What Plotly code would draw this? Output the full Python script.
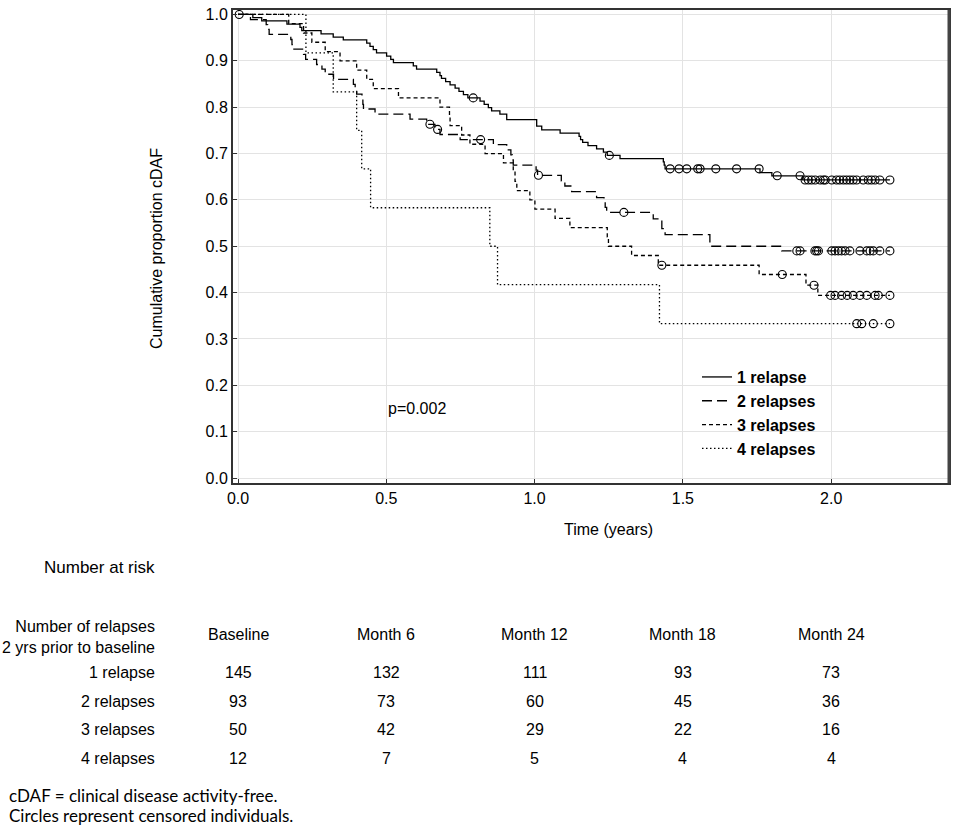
import numpy as np
import plotly.graph_objects as go

# Kaplan-Meier steps (time in years, cumulative proportion)
t_1 = [0, 0.05, 0.08, 0.165, 0.209, 0.215, 0.28, 0.321, 0.355, 0.434, 0.445, 0.456,
       0.467, 0.501, 0.515, 0.524, 0.591, 0.602, 0.670, 0.681, 0.686, 0.700, 0.715,
       0.732, 0.745, 0.760, 0.775, 0.816, 0.830, 0.844, 0.855, 0.883, 0.906, 1.007,
       1.024, 1.086, 1.150, 1.155, 1.162, 1.180, 1.209, 1.232, 1.245, 1.288, 1.434,
       1.437, 1.440, 1.760, 1.800, 1.904, 2.198]
s_1 = [1.0, 0.993, 0.986, 0.979, 0.972, 0.965, 0.958, 0.951, 0.945, 0.938, 0.931, 0.924,
       0.917, 0.910, 0.903, 0.896, 0.889, 0.882, 0.875, 0.868, 0.862, 0.855, 0.848,
       0.841, 0.834, 0.827, 0.820, 0.813, 0.806, 0.799, 0.792, 0.785, 0.773, 0.759,
       0.751, 0.744, 0.737, 0.730, 0.724, 0.717, 0.710, 0.703, 0.696, 0.689, 0.682,
       0.675, 0.667, 0.659, 0.652, 0.643, 0.643]
c_1 = [0.004, 0.793, 1.252, 1.457, 1.487, 1.513, 1.550, 1.558, 1.611, 1.681, 1.757,
       1.818, 1.895, 1.912, 1.923, 1.934, 1.946, 1.963, 1.974, 1.980, 2.002, 2.018,
       2.029, 2.041, 2.052, 2.063, 2.074, 2.086, 2.108, 2.125, 2.136, 2.148, 2.164, 2.198]

t_2 = [0, 0.042, 0.095, 0.100, 0.105, 0.178, 0.182, 0.186, 0.221, 0.228, 0.265, 0.283,
       0.294, 0.322, 0.389, 0.395, 0.400, 0.418, 0.421, 0.423, 0.462, 0.580, 0.636,
       0.664, 0.681, 0.749, 0.861, 0.906, 0.920, 0.925, 0.928, 1.005, 1.010, 1.090,
       1.102, 1.125, 1.209, 1.234, 1.238, 1.243, 1.400, 1.429, 1.440, 1.591, 1.833, 2.198]
s_2 = [1.0, 0.989, 0.978, 0.968, 0.957, 0.946, 0.935, 0.925, 0.914, 0.903, 0.892, 0.882,
       0.871, 0.860, 0.849, 0.839, 0.828, 0.817, 0.806, 0.796, 0.785, 0.774, 0.763,
       0.752, 0.741, 0.730, 0.719, 0.708, 0.697, 0.686, 0.675, 0.664, 0.653, 0.641,
       0.630, 0.618, 0.605, 0.595, 0.584, 0.573, 0.559, 0.538, 0.525, 0.500, 0.490, 0.490]
c_2 = [0.647, 0.673, 0.818, 1.013, 1.301, 1.884, 1.895, 1.945, 1.951, 1.957, 2.002,
       2.013, 2.024, 2.035, 2.047, 2.063, 2.097, 2.120, 2.131, 2.142, 2.164, 2.198]

t_3 = [0, 0.171, 0.221, 0.249, 0.294, 0.344, 0.400, 0.434, 0.456, 0.541, 0.681, 0.713,
       0.715, 0.754, 0.782, 0.833, 0.895, 0.928, 0.934, 0.940, 0.984, 1.001, 1.069,
       1.119, 1.245, 1.249, 1.327, 1.417, 1.757, 1.915, 1.955, 2.198]
s_3 = [1.0, 0.98, 0.96, 0.94, 0.92, 0.90, 0.88, 0.86, 0.84, 0.82, 0.80, 0.78,
       0.76, 0.74, 0.72, 0.70, 0.68, 0.66, 0.64, 0.62, 0.60, 0.58, 0.56,
       0.54, 0.52, 0.50, 0.48, 0.459, 0.439, 0.416, 0.394, 0.394]
c_3 = [1.429, 1.835, 1.942, 1.998, 2.013, 2.035, 2.054, 2.074, 2.097, 2.120, 2.148,
       2.159, 2.198]

t_4 = [0, 0.229, 0.321, 0.400, 0.417, 0.447, 0.849, 0.875, 1.421, 2.198]
s_4 = [1.0, 0.917, 0.833, 0.750, 0.667, 0.583, 0.500, 0.417, 0.333, 0.333]
c_4 = [2.086, 2.103, 2.142, 2.198]

groups = ["1 relapse", "2 relapses", "3 relapses", "4 relapses"]

# number at risk table
months = ["Baseline", "Month 6", "Month 12", "Month 18", "Month 24"]
month_x = [0, 0.5, 1.0, 1.5, 2.0]
at_risk_1 = [145, 132, 111, 93, 73]
at_risk_2 = [93, 73, 60, 45, 36]
at_risk_3 = [50, 42, 29, 22, 16]
at_risk_4 = [12, 7, 5, 4, 4]

FONT = "Liberation Sans"
W, H = 957, 831
L, R, T, B = 233, 8, 6, 348


def py(p):
    # pixel row -> paper y
    return (H - B - p) / (H - B - T)


def px(p):
    return (p - L) / (W - L - R)


def at(times, tt, ss):
    idx = np.searchsorted(np.array(tt), np.array(times), side="right") - 1
    return np.array(ss)[idx]


fig = go.Figure()
dashes = ["solid", "10px,5px", "4px,3px", "1.5px,2.5px"]
curves = [(t_1, s_1, c_1), (t_2, s_2, c_2), (t_3, s_3, c_3), (t_4, s_4, c_4)]
for name, dash, (tt, ss, cc) in zip(groups, dashes, curves):
    fig.add_trace(go.Scatter(x=tt, y=ss, mode="lines", line_shape="hv",
                             line=dict(color="black", width=1.3, dash=dash),
                             name="<b>%s</b>" % name))
for name, (tt, ss, cc) in zip(groups, curves):
    fig.add_trace(go.Scatter(x=cc, y=at(cc, tt, ss), mode="markers", showlegend=False,
                             marker=dict(symbol="circle-open", size=8, color="black",
                                         line=dict(width=1.1)),
                             name=name))


def note(x, y, text, xref="paper", yref="paper", xanchor="center", size=16, **kw):
    return dict(x=x, y=y, xref=xref, yref=yref, text=text, showarrow=False,
                xanchor=xanchor, yanchor="middle", font=dict(size=size), **kw)


ann = [
    note(0.5, 0.151, "p=0.002", xref="x", yref="y", xanchor="left"),
    note(1.25, py(530), "Time (years)", xref="x"),
    note(px(157), py(247), "Cumulative proportion cDAF", textangle=-90),
    note(px(157), py(568), "Number at risk", xanchor="right", size=17),
    note(px(157), py(638), "Number of relapses<br>2 yrs prior to baseline",
         xanchor="right", align="right"),
]
for m, mx in zip(months, month_x):
    ann.append(note(mx, py(636), m, xref="x"))
rows = [at_risk_1, at_risk_2, at_risk_3, at_risk_4]
row_y = [674, 703, 732, 761]
for name, vals, ry in zip(groups, rows, row_y):
    ann.append(note(px(157), py(ry), name, xanchor="right"))
    for v, mx in zip(vals, month_x):
        ann.append(note(mx, py(ry), str(v), xref="x"))
for txt, ry in [("cDAF = clinical disease activity-free.", 798),
                ("Circles represent censored individuals.", 818)]:
    a = note(px(7), py(ry), txt, xanchor="left", size=17)
    a["font"]["family"] = "Lato"
    ann.append(a)

fig.update_layout(
    width=W, height=H, margin=dict(l=L, r=R, t=T, b=B),
    paper_bgcolor="white", plot_bgcolor="white",
    font=dict(family=FONT, size=16, color="black"),
    annotations=ann,
    # heavier right edge of the frame, as in the original
    shapes=[dict(type="line", xref="paper", yref="paper", x0=1, x1=1, y0=0, y1=1,
                 line=dict(color="#444", width=3))],
    legend=dict(x=px(697), y=py(359), xanchor="left", yanchor="top",
                bgcolor="rgba(0,0,0,0)", font=dict(size=16), tracegroupgap=0),
    xaxis=dict(range=[-0.0169, 2.3972], tickvals=[0, 0.5, 1.0, 1.5, 2.0],
               ticktext=["0.0", "0.5", "1.0", "1.5", "2.0"],
               showgrid=True, gridcolor="#e3e3e3", gridwidth=1, zeroline=False,
               showline=True, linecolor="#333", linewidth=2, mirror=True,
               ticks="inside", ticklen=4, tickcolor="#333"),
    yaxis=dict(range=[-0.0107, 1.0096], tickvals=[i / 10 for i in range(11)],
               ticktext=["%.1f" % (i / 10) for i in range(11)],
               showgrid=True, gridcolor="#e3e3e3", gridwidth=1, zeroline=False,
               showline=True, linecolor="#333", linewidth=2, mirror=True,
               ticks="inside", ticklen=4, tickcolor="#333"),
)

fig.write_html("out.html", config={"displayModeBar": False},
               post_script="document.body.style.margin='0px';")
